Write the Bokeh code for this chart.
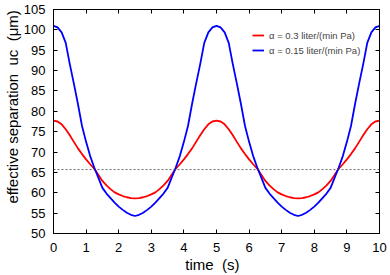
import math
from bokeh.plotting import figure
from bokeh.models import (Range1d, FixedTicker, LinearAxis, Span,
                          Legend, LegendItem)
from bokeh.embed import file_html
from bokeh.resources import INLINE

# ---- data ----
time_s = [i * 0.125 for i in range(81)]
sep_alpha_03 = [
    77.7, 77.5, 76.8, 75.6, 74.1, 72.5, 70.9, 69.5, 68.2, 67.0, 65.9,
    64.4, 62.9, 61.8, 60.9, 60.1, 59.6, 59.2, 58.9, 58.7, 58.6,
    58.7, 58.9, 59.2, 59.6, 60.1, 60.9, 61.8, 62.9, 64.4, 65.9,
    67.0, 68.2, 69.5, 70.9, 72.5, 74.1, 75.6, 76.8, 77.5, 77.7,
    77.5, 76.8, 75.6, 74.1, 72.5, 70.9, 69.5, 68.2, 67.0, 65.9,
    64.4, 62.9, 61.8, 60.9, 60.1, 59.6, 59.2, 58.9, 58.7, 58.6,
    58.7, 58.9, 59.2, 59.6, 60.1, 60.9, 61.8, 62.9, 64.4, 65.9,
    67.0, 68.2, 69.5, 70.9, 72.5, 74.1, 75.6, 76.8, 77.5, 77.7,
]
sep_alpha_015 = [
    101.0, 100.6, 99.4, 96.8, 91.6, 86.8, 81.8, 76.4, 72.5, 69.0, 66.2,
    63.7, 61.2, 59.8, 58.7, 57.6, 56.6, 55.8, 55.1, 54.6, 54.3,
    54.6, 55.1, 55.8, 56.6, 57.6, 58.7, 59.8, 61.2, 63.7, 66.2,
    69.0, 72.5, 76.4, 81.8, 86.8, 91.6, 96.8, 99.4, 100.6, 101.0,
    100.6, 99.4, 96.8, 91.6, 86.8, 81.8, 76.4, 72.5, 69.0, 66.2,
    63.7, 61.2, 59.8, 58.7, 57.6, 56.6, 55.8, 55.1, 54.6, 54.3,
    54.6, 55.1, 55.8, 56.6, 57.6, 58.7, 59.8, 61.2, 63.7, 66.2,
    69.0, 72.5, 76.4, 81.8, 86.8, 91.6, 96.8, 99.4, 100.6, 101.0,
]
threshold = 65.7
x_ticks = list(range(0, 11))
y_ticks = list(range(50, 106, 5))
legend_labels = ["\u03b1 = 0.3 liter/(min Pa)", "\u03b1 = 0.15 liter/(min Pa)"]
NB = "\u00a0"
x_title = "time" + NB * 2 + "(s)" + NB * 2
y_title = NB * 7 + "effective separation" + NB * 2 + "u\u1d04" + NB * 2 + "(\u03bcm)"

FONT = "Liberation Sans"

p = figure(width=390, height=275, output_backend="svg", toolbar_location=None,
           x_range=Range1d(0, 10), y_range=Range1d(50, 105),
           min_border_left=53, min_border_right=11, min_border_top=9,
           min_border_bottom=40)
p.grid.visible = False
p.outline_line_color = "black"
p.outline_line_width = 1
p.background_fill_color = "white"
p.border_fill_color = "white"

p.xaxis.ticker = FixedTicker(ticks=x_ticks)
p.yaxis.ticker = FixedTicker(ticks=y_ticks)

def style_axis(ax):
    ax.axis_line_color = "black"
    ax.axis_line_width = 1
    ax.major_tick_in = 4
    ax.major_tick_out = 0
    ax.minor_tick_in = 0
    ax.minor_tick_out = 0
    ax.major_tick_line_color = "black"
    ax.major_label_text_font = FONT
    ax.major_label_text_font_size = "13px"
    ax.major_label_text_color = "black"

for ax in (p.xaxis[0], p.yaxis[0]):
    style_axis(ax)
    ax.axis_label_text_font = FONT
    ax.axis_label_text_font_size = "15px"
    ax.axis_label_text_font_style = "normal"
    ax.axis_label_text_color = "black"
p.xaxis.major_label_standoff = 9
p.yaxis.major_label_standoff = 8
p.xaxis.axis_label = x_title
p.xaxis.axis_label_standoff = 1
p.yaxis.axis_label = y_title
p.yaxis.axis_label_standoff = 0

top_ax = LinearAxis(ticker=FixedTicker(ticks=x_ticks))
right_ax = LinearAxis(ticker=FixedTicker(ticks=y_ticks))
for ax in (top_ax, right_ax):
    style_axis(ax)
    ax.major_label_text_font_size = "0px"
    ax.major_label_standoff = 0
p.add_layout(top_ax, "above")
p.add_layout(right_ax, "right")

r1 = p.line(time_s, sep_alpha_03, line_color="#ff0000", line_width=1.8)
r2 = p.line(time_s, sep_alpha_015, line_color="#0000ff", line_width=1.8)

p.add_layout(Span(location=threshold, dimension="width", line_color="#444444",
                  line_dash="2 2", line_width=0.8))

legend = Legend(items=[LegendItem(label=legend_labels[0], renderers=[r1]),
                       LegendItem(label=legend_labels[1], renderers=[r2])],
                location=(199, 177), border_line_color=None,
                background_fill_alpha=0, label_text_font=FONT,
                label_text_font_size="9.5px", glyph_width=12, glyph_height=12,
                label_height=12, spacing=3, padding=0, margin=0,
                label_standoff=5)
p.add_layout(legend)

open("out.html", "w").write(file_html(p, INLINE))
